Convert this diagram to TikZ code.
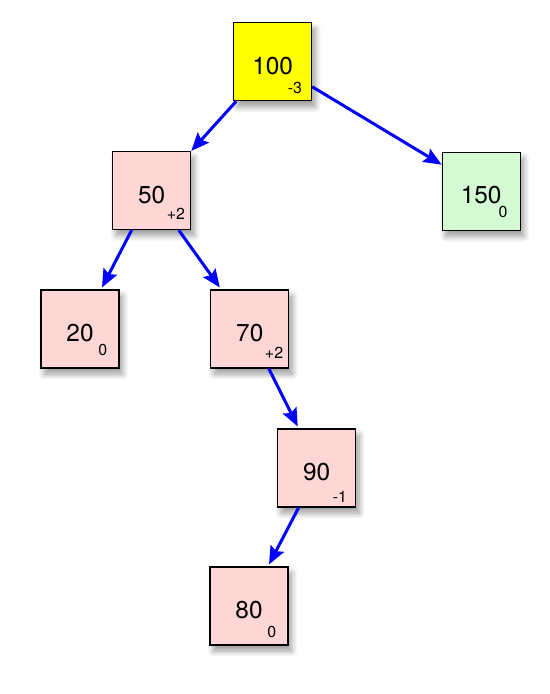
\documentclass[tikz,border=0pt]{standalone}
\usepackage{fontspec}
\setmainfont{TeX Gyre Heros}
\usetikzlibrary{arrows.meta,shadows.blur}

\definecolor{rootyellow}{RGB}{255,255,0}
\definecolor{keypink}{RGB}{255,214,214}
\definecolor{keygreen}{RGB}{212,250,212}

\tikzset{
  avl/.style={draw=black, line width=1.1bp, minimum size=78bp, inner sep=0pt,
    text height=25bp, text depth=0pt, font=\fontsize{24.5}{28}\selectfont,
    blur shadow={shadow xshift=3.5bp, shadow yshift=-6bp, shadow blur radius=6bp,
      shadow blur steps=10, shadow opacity=40}},
  bal/.style={anchor=south east, inner sep=0pt, font=\fontsize{16}{18}\selectfont},
  link/.style={draw=blue, line width=3bp, -{Stealth[length=18bp,width=15bp,inset=3bp]}}
}

\begin{document}
\begin{tikzpicture}[x=1bp,y=-1bp]
\useasboundingbox (0,0) rectangle (550,694);

% AVL tree, key with balance factor
\node[avl,fill=rootyellow] (n100) at (272.7,61.8) {100};
\node[avl,fill=keypink]    (n50)  at (151.7,190.5) {50};
\node[avl,fill=keygreen]   (n150) at (481.2,191.2) {150};
\node[avl,fill=keypink]    (n20)  at (80,329) {20};
\node[avl,fill=keypink]    (n70)  at (249.8,329) {70};
\node[avl,fill=keypink]    (n90)  at (316.7,468) {90};
\node[avl,fill=keypink]    (n80)  at (249,606) {80};

\node[bal,xshift=-10bp,yshift=7bp]  (b100) at (n100.south east) {-3};
\node[bal,xshift=-6bp,yshift=10bp]  (b50)  at (n50.south east) {+2};
\node[bal,xshift=-13bp,yshift=13bp] (b150) at (n150.south east) {0};
\node[bal,xshift=-12bp,yshift=13bp] (b20)  at (n20.south east) {0};
\node[bal,xshift=-6bp,yshift=10bp]  (b70)  at (n70.south east) {+2};
\node[bal,xshift=-9bp,yshift=5bp]   (b90)  at (n90.south east) {-1};
\node[bal,xshift=-12bp,yshift=8bp]  (b80)  at (n80.south east) {0};

\draw[link] ([xshift=3bp]n100.south west) -- (n50.north east);
\draw[link] ([yshift=-25bp]n100.east) -- ([yshift=-13bp]n150.north west);
\draw[link] ([xshift=-20bp]n50.south) -- ([xshift=22bp,yshift=2bp]n20.north);
\draw[link] ([xshift=27bp]n50.south) -- ([xshift=-30bp,yshift=2bp]n70.north);
\draw[link] ([xshift=19bp]n70.south) -- ([xshift=-19bp,yshift=2bp]n90.north);
\draw[link] ([xshift=-18bp]n90.south) -- ([xshift=20bp,yshift=2bp]n80.north);
\end{tikzpicture}
\end{document}
